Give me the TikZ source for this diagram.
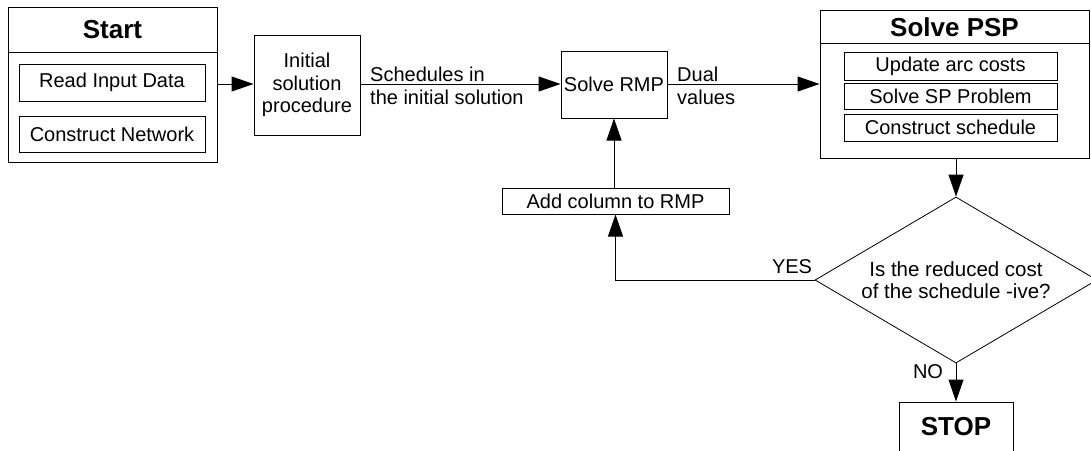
\documentclass[tikz,border=0pt]{standalone}
\usepackage{fontspec}
\setmainfont{Liberation Sans}
\usetikzlibrary{arrows.meta,shapes.geometric}

\tikzset{
    box/.style={draw,line width=1pt,inner sep=0pt,align=center,
        font=\fontsize{20}{22.5}\selectfont},
    title/.style={font=\fontsize{26}{30}\selectfont\bfseries},
    lbl/.style={font=\fontsize{20}{23}\selectfont,inner sep=0pt},
    flow/.style={line width=1pt,-{Triangle[length=22pt,width=15pt]}}
}

\begin{document}
\begin{tikzpicture}[x=1pt,y=-1pt]
    \useasboundingbox (0,0) rectangle (1091,450);
    % start block
    \node[box,minimum width=209pt,minimum height=155pt] (start) at (112.5,84.5) {};
    \node[title] (starttitle) at (112.5,30) {Start};
    \draw[line width=1pt] ([yshift=-46pt]start.north west) -- ([yshift=-46pt]start.north east);
    \node[box,minimum width=186pt,minimum height=37pt] (readdata) at (112,82.5) {Read Input Data};
    \node[box,minimum width=186pt,minimum height=36pt] (network) at (112,134) {Construct Network};
    % initial solution and RMP
    \node[box,minimum width=106pt,minimum height=100pt] (initial) at (307,85) {Initial\\solution\\procedure};
    \node[box,minimum width=106pt,minimum height=67pt] (rmp) at (614,84.5) {Solve RMP};
    \node[box,minimum width=227pt,minimum height=26pt] (addcol) at (615.5,201) {Add column to RMP};
    % pricing block
    \node[box,minimum width=269pt,minimum height=148pt] (psp) at (954.5,84) {};
    \node[title] (psptitle) at (954.5,27) {Solve PSP};
    \draw[line width=1pt] ([yshift=-34pt]psp.north west) -- ([yshift=-34pt]psp.north east);
    \node[box,minimum width=213pt,minimum height=28pt] (arccost) at (950.5,66) {Update arc costs};
    \node[box,minimum width=213pt,minimum height=26pt] (spprob) at (950.5,96) {Solve SP Problem};
    \node[box,minimum width=213pt,minimum height=27pt] (schedule) at (950.5,127.5) {Construct schedule};
    % decision and stop
    \node[box,line width=0.8pt,diamond,aspect=1.7,minimum width=282pt,minimum height=166pt,
        font=\fontsize{20.5}{22}\selectfont] (check) at (956,280) {Is the reduced cost\\of the schedule -ive?};
    \node[box,title,minimum width=114pt,minimum height=50pt] (stop) at (956,427) {STOP};
    % connectors
    \draw[flow] (start.east |- 0,84) -- (initial.west |- 0,84);
    \draw[flow] (initial.east |- 0,84) -- (rmp.west |- 0,84);
    \draw[flow] (rmp.east |- 0,84) -- (psp.west |- 0,84);
    \draw[flow] (psp.south -| check.north) -- (check.north);
    \draw[flow] (addcol.north -| rmp.south) -- (rmp.south);
    \draw[flow] (check.west) -| (addcol.south);
    \draw[flow] (check.south) -- (stop.north);
    % labels
    \node[lbl,anchor=west,align=left] (schedlbl) at (370,86) {Schedules in\\the initial solution};
    \node[lbl,anchor=west,align=left] (duallbl) at (677,86) {Dual\\values};
    \node[lbl] (yeslbl) at (792,267) {YES};
    \node[lbl] (nolbl) at (928,372) {NO};
\end{tikzpicture}
\end{document}
